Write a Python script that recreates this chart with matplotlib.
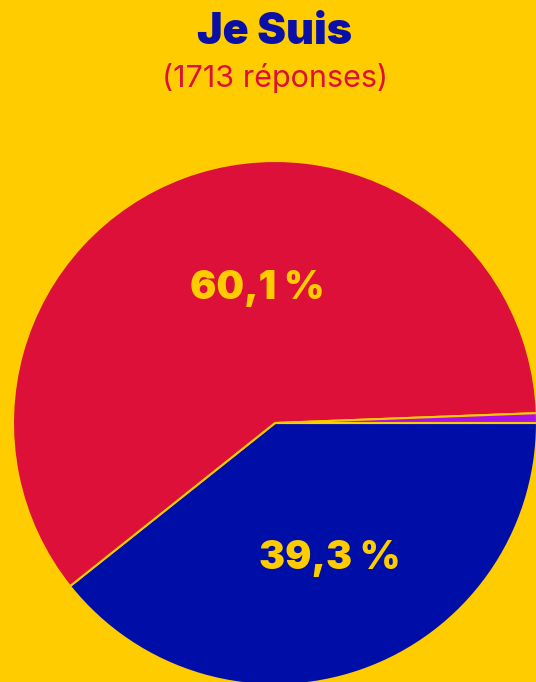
import matplotlib
matplotlib.use('Agg')
import matplotlib.pyplot as plt

# survey answers for "Je Suis"
labels = ['Homme', 'Femme', 'Autre']
shares = [39.3, 60.1, 0.6]
n_answers = 1713

bg = '#ffcc00'
colors = ['#000ea8', '#dc1038', '#b00ee6']

fig = plt.figure(figsize=(5.36, 6.82), dpi=100)
fig.patch.set_facecolor(bg)

# pie centre at (275, 423) px, radius 262 px
W, H = 536, 682
cx, cy, r = 275, 423, 262
ax = fig.add_axes([(cx - r) / W, (H - cy - r) / H, 2 * r / W, 2 * r / H])
ax.set_facecolor(bg)

wedges, _ = ax.pie(shares, colors=colors, startangle=0, counterclock=False,
                   radius=1, wedgeprops=dict(edgecolor=bg, linewidth=1.5))
for w in wedges:
    w.set_clip_on(False)
ax.set_xlim(-1, 1)
ax.set_ylim(-1, 1)
ax.set_aspect('equal')
ax.axis('off')

def pct(v):
    return f'{v:.1f}'.replace('.', ',') + ' %'

ax.text(-0.069, 0.515, pct(shares[1]), ha='center', va='center', color=bg,
        fontsize=28, fontweight='black', family=['Inter', 'DejaVu Sans'])
ax.text(0.21, -0.519, pct(shares[0]), ha='center', va='center', color=bg,
        fontsize=28, fontweight='black', family=['Inter', 'DejaVu Sans'])

fig.text(275 / W, 1 - 33 / H, 'Je Suis', ha='center', va='center', color='#0a10a6',
         fontsize=31, fontweight='black', family=['Inter', 'DejaVu Sans'])
fig.text(275 / W, 1 - 78 / H, f'({n_answers} réponses)', ha='center', va='center',
         color='#dc1038', fontsize=22, family=['Inter', 'DejaVu Sans'])

fig.savefig('out.png', dpi=100, facecolor=bg)
